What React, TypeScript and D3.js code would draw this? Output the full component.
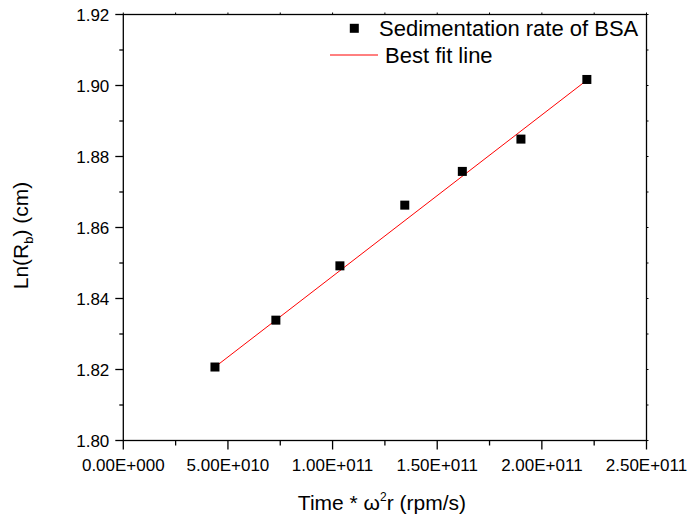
import React from "react";
import * as d3 from "d3";

const timeValues = [4.38e10, 7.29e10, 1.035e11, 1.345e11, 1.62e11, 1.9e11, 2.215e11];
const lnRbValues = [1.8207, 1.8339, 1.8492, 1.8663, 1.8758, 1.8849, 1.9017];
const fitX = [4.38e10, 2.215e11];
const fitY = [1.8207, 1.9015];
const xMajorTicks = [0, 5e10, 1e11, 1.5e11, 2e11, 2.5e11];
const xTickLabels = ["0.00E+000", "5.00E+010", "1.00E+011", "1.50E+011", "2.00E+011", "2.50E+011"];
const yMajorTicks = [1.8, 1.82, 1.84, 1.86, 1.88, 1.9, 1.92];
const yTickLabels = ["1.80", "1.82", "1.84", "1.86", "1.88", "1.90", "1.92"];
const legendLabels = ["Sedimentation rate of BSA", "Best fit line"];

const W = 689;
const H = 518;
const L = 123.3;
const R = 646.5;
const T = 14.5;
const B = 440.5;
const FONT = "'Liberation Sans', Arial, Helvetica, sans-serif";

export default function App() {
  const x = d3.scaleLinear().domain([0, 2.5e11]).range([L, R]);
  const y = d3.scaleLinear().domain([1.8, 1.92]).range([B, T]);
  const xMinor = d3.range(5).map((i) => 2.5e10 + i * 5e10);
  const yMinor = d3.range(6).map((i) => 1.81 + i * 0.02);
  const line = d3
    .line<number>()
    .x((d, i) => x(fitX[i]))
    .y((d) => y(d));
  const ms = 9;
  const axisColor = "#000";
  return (
    <svg
      width={W}
      height={H}
      style={{ position: "absolute", left: 0, top: 0, background: "#fff" }}
      fontFamily={FONT}
    >
      <rect x={0} y={0} width={W} height={H} fill="#fff" />
      {/* frame */}
      <rect x={L} y={T} width={R - L} height={B - T} fill="none" stroke={axisColor} strokeWidth={1.3} />
      {/* bottom ticks */}
      {xMajorTicks.map((t, i) => (
        <g key={"xm" + i}>
          <line x1={x(t)} x2={x(t)} y1={B} y2={B + 9} stroke={axisColor} strokeWidth={1.3} />
          <line x1={x(t)} x2={x(t)} y1={T} y2={T - 2} stroke={axisColor} strokeWidth={1} />
          <text x={x(t)} y={B + 30} textAnchor="middle" fontSize={17}>
            {xTickLabels[i]}
          </text>
        </g>
      ))}
      {xMinor.map((t, i) => (
        <g key={"xn" + i}>
          <line x1={x(t)} x2={x(t)} y1={B} y2={B + 5} stroke={axisColor} strokeWidth={1.3} />
          <line x1={x(t)} x2={x(t)} y1={T} y2={T - 2} stroke={axisColor} strokeWidth={1} />
        </g>
      ))}
      {/* left ticks */}
      {yMajorTicks.map((t, i) => (
        <g key={"ym" + i}>
          <line x1={L} x2={L - 8} y1={y(t)} y2={y(t)} stroke={axisColor} strokeWidth={1.3} />
          <line x1={R} x2={R + 2} y1={y(t)} y2={y(t)} stroke={axisColor} strokeWidth={1} />
          <text x={L - 14} y={y(t)} dy="0.36em" textAnchor="end" fontSize={17}>
            {yTickLabels[i]}
          </text>
        </g>
      ))}
      {yMinor.map((t, i) => (
        <g key={"yn" + i}>
          <line x1={L} x2={L - 4} y1={y(t)} y2={y(t)} stroke={axisColor} strokeWidth={1.3} />
          <line x1={R} x2={R + 2} y1={y(t)} y2={y(t)} stroke={axisColor} strokeWidth={1} />
        </g>
      ))}
      {/* fit line */}
      <path d={line(fitY) || ""} fill="none" stroke="#ff0000" strokeWidth={1} />
      {/* points */}
      {timeValues.map((t, i) => (
        <rect
          key={"p" + i}
          x={x(t) - ms / 2}
          y={y(lnRbValues[i]) - ms / 2}
          width={ms}
          height={ms}
          fill="#000"
        />
      ))}
      {/* legend */}
      <rect x={354.3 - ms / 2} y={28.3 - ms / 2} width={ms} height={ms} fill="#000" />
      <text x={379} y={35.5} fontSize={22}>
        {legendLabels[0]}
      </text>
      <line x1={330} x2={378} y1={55} y2={55} stroke="#ff0000" strokeWidth={1} />
      <text x={385} y={63} fontSize={22}>
        {legendLabels[1]}
      </text>
      {/* axis titles */}
      <text x={(L + R) / 2 - 3} y={510} textAnchor="middle" fontSize={21}>
        Time * ω<tspan dy={-9} fontSize={12}>2</tspan>
        <tspan dy={9}>r (rpm/s)</tspan>
      </text>
      <text
        transform={`translate(28, ${(T + B) / 2 + 8}) rotate(-90)`}
        textAnchor="middle"
        fontSize={21}
      >
        Ln(R<tspan dy={5} fontSize={13}>b</tspan>
        <tspan dy={-5}>) (cm)</tspan>
      </text>
    </svg>
  );
}
